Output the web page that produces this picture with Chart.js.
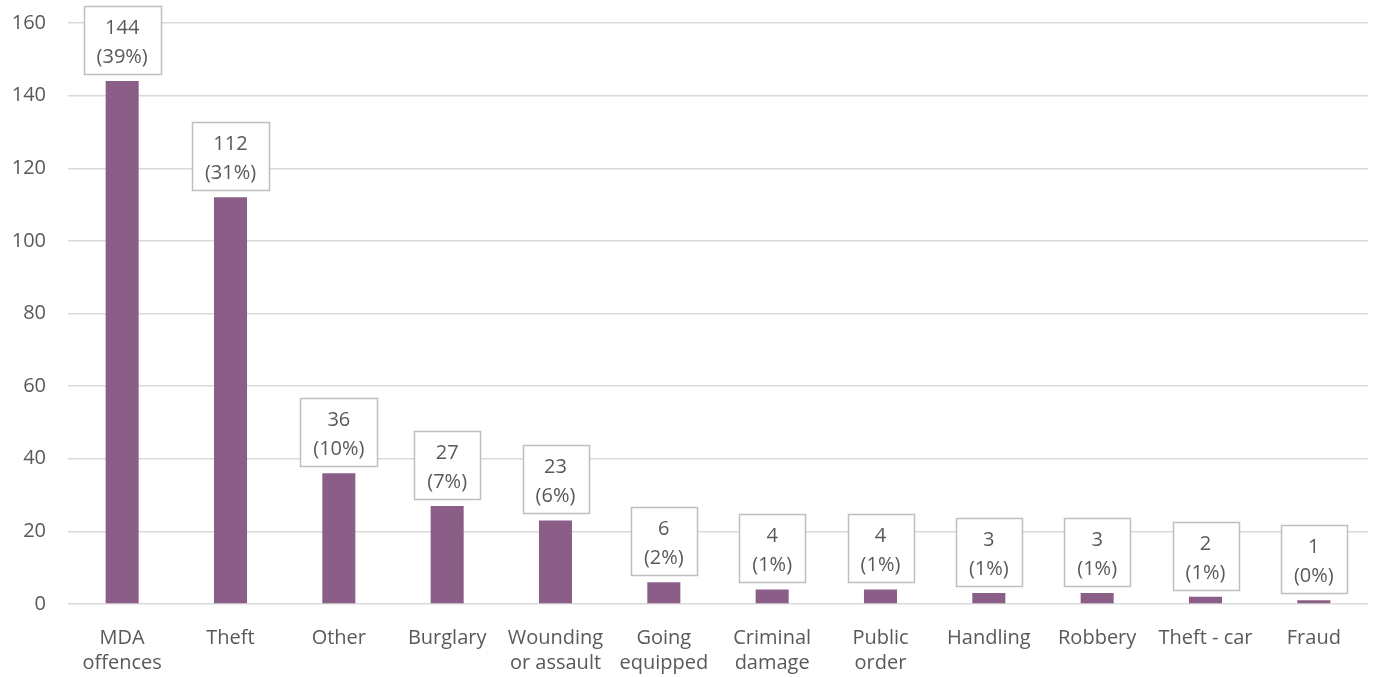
<!DOCTYPE html>
<html>
<head>
<meta charset="utf-8">
<title>Offences</title>
<script src="https://cdn.jsdelivr.net/npm/chart.js@4"></script>
<style>
    html, body { margin: 0; padding: 0; background: #fff; }
    #wrap { position: relative; width: 1375px; height: 677px; }
</style>
</head>
<body>
<div id="wrap"><canvas id="chart"></canvas></div>
<script>
// Offence categories and counts
const categories = [
    ['MDA', 'offences'], 'Theft', 'Other', 'Burglary', ['Wounding', 'or assault'],
    ['Going', 'equipped'], ['Criminal', 'damage'], ['Public', 'order'],
    'Handling', 'Robbery', 'Theft - car', 'Fraud'
];
const counts = [144, 112, 36, 27, 23, 6, 4, 4, 3, 3, 2, 1];
const yTicks = [0, 20, 40, 60, 80, 100, 120, 140, 160];

const FONT = '"Open Sans", sans-serif';
const TEXT = '#595959';
const total = counts.reduce((a, b) => a + b, 0);

// Boxed "count (share%)" label above each bar
const boxLabels = {
    id: 'boxLabels',
    afterDatasetsDraw: function (chart) {
        const ctx = chart.ctx;
        const meta = chart.getDatasetMeta(0);
        ctx.save();
        ctx.font = '20px ' + FONT;
        ctx.textAlign = 'center';
        ctx.textBaseline = 'middle';
        meta.data.forEach((bar, i) => {
            const v = counts[i];
            const line1 = String(v);
            const line2 = '(' + Math.round(v / total * 100) + '%)';
            const w = Math.round(Math.max(ctx.measureText(line1).width, ctx.measureText(line2).width) + 26);
            const h = 68;
            const bottom = bar.y - 7;
            const left = Math.round(bar.x - w / 2) + 0.5;
            const top = Math.round(bottom - h) + 0.5;
            ctx.fillStyle = '#ffffff';
            ctx.fillRect(left, top, w, h);
            ctx.strokeStyle = '#bfbfbf';
            ctx.lineWidth = 1.5;
            ctx.strokeRect(left, top, w, h);
            ctx.fillStyle = TEXT;
            ctx.fillText(line1, bar.x, top + 22);
            ctx.fillText(line2, bar.x, top + 51);
        });
        ctx.restore();
    }
};

new Chart(document.getElementById('chart'), {
    type: 'bar',
    data: {
        labels: categories,
        datasets: [{
            data: counts,
            backgroundColor: '#8b5e88',
            barPercentage: 0.305,
            categoryPercentage: 1
        }]
    },
    options: {
        responsive: true,
        maintainAspectRatio: false,
        animation: false,
        layout: {
            padding: { top: 23, right: 7, left: 0, bottom: 0 }
        },
        plugins: {
            legend: { display: false },
            tooltip: { enabled: false }
        },
        scales: {
            x: {
                grid: { display: false },
                border: { display: false },
                afterFit: function (axis) {
                    axis.height = 73;
                    axis.paddingTop = 0;
                    axis.paddingBottom = 0;
                },
                ticks: {
                    color: TEXT,
                    font: { family: FONT, size: 20, lineHeight: 1.25 },
                    maxRotation: 0,
                    autoSkip: false,
                    padding: 14
                }
            },
            y: {
                min: 0,
                max: 160,
                afterBuildTicks: function (axis) {
                    axis.ticks = yTicks.map(v => ({ value: v }));
                },
                afterFit: function (axis) {
                    axis.width = 68;
                    axis.paddingTop = 0;
                    axis.paddingBottom = 0;
                },
                grid: { color: '#d9d9d9', lineWidth: 1.5, drawTicks: false },
                border: { display: false },
                ticks: {
                    color: TEXT,
                    font: { family: FONT, size: 20 },
                    padding: 22
                }
            }
        }
    },
    plugins: [boxLabels]
});
</script>
</body>
</html>
